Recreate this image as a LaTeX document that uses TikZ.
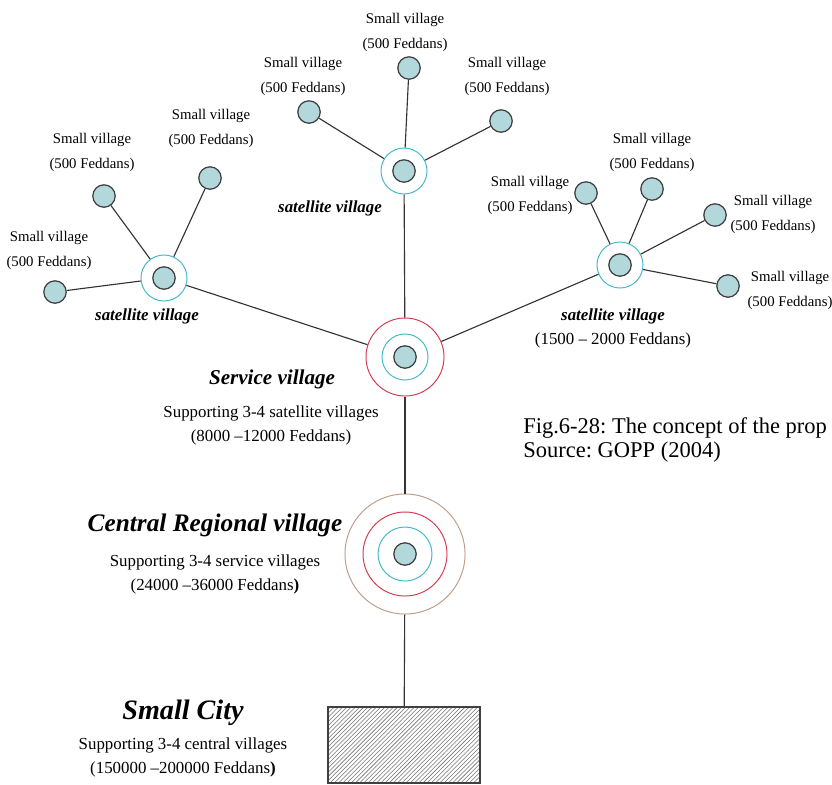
\documentclass[tikz,border=0pt]{standalone}
\usepackage{fontspec}
\setmainfont{Liberation Serif}
\usetikzlibrary{patterns}
\frenchspacing

\definecolor{hamletfill}{RGB}{178,216,220}
\definecolor{ringcyan}{RGB}{70,185,198}
\definecolor{ringred}{RGB}{212,60,82}
\definecolor{ringtan}{RGB}{190,158,138}

\tikzset{
  hamlet/.style={circle,draw=black!75,fill=hamletfill,line width=0.9pt,minimum size=0.56cm,inner sep=0pt},
  cyanring/.style={circle,draw=ringcyan,line width=0.7pt,minimum size=1.15cm,inner sep=0pt},
  redring/.style={circle,draw=ringred,line width=0.7pt,minimum size=1.95cm,inner sep=0pt},
  tanring/.style={circle,draw=ringtan,line width=0.7pt,minimum size=3cm,inner sep=0pt},
  link/.style={draw=black!80,line width=0.8pt},
  smalltext/.style={align=center,font=\fontsize{10.5}{17.8}\selectfont},
  desctext/.style={align=center,font=\fontsize{12}{17}\selectfont},
  sattitle/.style={font=\fontsize{12}{14}\selectfont\bfseries\itshape},
}

\begin{document}
\begin{tikzpicture}[x=0.025cm,y=-0.025cm]
        \clip (0,0) rectangle (832,784);

        % Satellite villages
        \node[cyanring] (sat1) at (164,278) {};
        \node[cyanring] (sat2) at (404,171) {};
        \node[cyanring] (sat3) at (620,265) {};
        \foreach \s in {sat1,sat2,sat3}
          \node[hamlet] at (\s.center) {};

        % Service village
        \node[redring] (sv) at (405,357) {};
        \node[cyanring] at (sv.center) {};
        \node[hamlet] at (sv.center) {};

        % Central regional village
        \node[tanring] (crv) at (405,554) {};
        \node[redring,minimum size=2.1cm] at (crv.center) {};
        \node[cyanring,minimum size=1.35cm] at (crv.center) {};
        \node[hamlet] at (crv.center) {};

        % Small city
        \node[rectangle,draw=black!75,line width=0.8pt,pattern=north east lines,pattern color=black!55,
              minimum width=3.8cm,minimum height=1.9cm] (city) at (404,745) {};

        % Small villages
        \node[hamlet] (h11) at (55,292) {};
        \node[hamlet] (h12) at (104,196) {};
        \node[hamlet] (h13) at (210,178) {};
        \node[hamlet] (h21) at (309,112) {};
        \node[hamlet] (h22) at (409,68) {};
        \node[hamlet] (h23) at (501,121) {};
        \node[hamlet] (h31) at (586,193) {};
        \node[hamlet] (h32) at (652,189) {};
        \node[hamlet] (h33) at (715,215) {};
        \node[hamlet] (h34) at (728,286) {};

        % Links
        \foreach \h in {h11,h12,h13} \draw[link] (\h) -- (sat1);
        \foreach \h in {h21,h22,h23} \draw[link] (\h) -- (sat2);
        \foreach \h in {h31,h32,h33,h34} \draw[link] (\h) -- (sat3);
        \foreach \s in {sat1,sat2,sat3} \draw[link] (\s) -- (sv);
        \draw[link] (sv) -- (crv);
        \draw[link] (crv) -- (city);

        % Small village labels
        \node[smalltext] (l11) at (49,250) {Small village\\(500 Feddans)};
        \node[smalltext] (l12) at (92,152) {Small village\\(500 Feddans)};
        \node[smalltext] (l13) at (211,128) {Small village\\(500 Feddans)};
        \node[smalltext] (l21) at (303,76) {Small village\\(500 Feddans)};
        \node[smalltext] (l22) at (405,32) {Small village\\(500 Feddans)};
        \node[smalltext] (l23) at (507,76) {Small village\\(500 Feddans)};
        \node[smalltext] (l31) at (530,195) {Small village\\(500 Feddans)};
        \node[smalltext] (l32) at (652,152) {Small village\\(500 Feddans)};
        \node[smalltext] (l33) at (773,214) {Small village\\(500 Feddans)};
        \node[smalltext] (l34) at (790,290) {Small village\\(500 Feddans)};

        % Level labels
        \node[sattitle] (st1) at (147,316) {satellite village};
        \node[sattitle] (st2) at (330,208) {satellite village};
        \node[sattitle] (st3) at (613,316) {satellite village};
        \node[desctext] (sd3) at (613,340) {(1500 -- 2000 Feddans)};

        \node[font=\fontsize{15}{17}\selectfont\bfseries\itshape] (svt) at (272,379) {Service village};
        \node[desctext] (svd) at (271,425) {Supporting 3-4 satellite villages\\(8000 --12000 Feddans)};

        \node[font=\fontsize{18}{20}\selectfont\bfseries\itshape] (crt) at (215,525) {Central Regional village};
        \node[desctext] (crd) at (215,574) {Supporting 3-4 service villages\\(24000 --36000 Feddans\textbf{)}};

        \node[font=\fontsize{20}{22}\selectfont\bfseries\itshape] (sct) at (183,713) {Small City};
        \node[desctext] (scd) at (183,757) {Supporting 3-4 central villages\\(150000 --200000 Feddans\textbf{)}};

        % Caption
        \node[anchor=west,align=left,inner sep=0pt,font=\fontsize{16}{17}\selectfont] (cap) at (523,440)
          {Fig.6-28: The concept of the prop\\Source: GOPP (2004)};
\end{tikzpicture}
\end{document}
